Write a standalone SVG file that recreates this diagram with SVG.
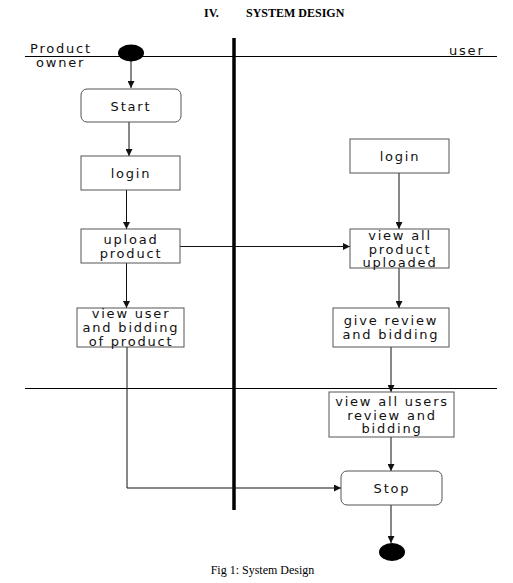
<svg xmlns="http://www.w3.org/2000/svg" width="513" height="583" viewBox="0 0 513 583">
<style>
.box{fill:#fff;stroke:#555;stroke-width:1}
.t{font-family:"DejaVu Sans",sans-serif;font-size:13px;letter-spacing:1.8px;fill:#111;text-anchor:middle}
.lane{font-family:"DejaVu Sans",sans-serif;font-size:13px;letter-spacing:1.8px;fill:#111}
.c{fill:none;stroke:#111;stroke-width:1}
.title{font-family:"Liberation Serif",serif;font-size:12px;font-weight:bold;fill:#000}
.cap{font-family:"Liberation Serif",serif;font-size:12px;fill:#000}
</style>
<defs>
<marker id="ah" viewBox="0 0 8 8" refX="8" refY="4" markerWidth="7" markerHeight="7" markerUnits="userSpaceOnUse" orient="auto">
<path d="M0,0 L8,4 L0,8 Z" fill="#111"/>
</marker>
</defs>
<rect width="513" height="583" fill="#fff"/>
<text class="title" x="204" y="17">IV.</text>
<text class="title" x="246" y="17">SYSTEM DESIGN</text>
<g id="swimlanes">
<line x1="25" y1="56.5" x2="497" y2="56.5" stroke="#000" stroke-width="1.2"/>
<line x1="25" y1="388.5" x2="497" y2="388.5" stroke="#000" stroke-width="1.2"/>
<line x1="234" y1="38" x2="234" y2="510" stroke="#000" stroke-width="3.5"/>
<text class="lane" x="30" y="53">Product</text>
<text class="lane" x="36" y="67">owner</text>
<text class="lane" x="449" y="55">user</text>
</g>
<g id="connectors">
<line class="c" x1="131" y1="61" x2="131" y2="88" marker-end="url(#ah)"/>
<line class="c" x1="129" y1="122" x2="129" y2="156" marker-end="url(#ah)"/>
<line class="c" x1="126.5" y1="190" x2="126.5" y2="229" marker-end="url(#ah)"/>
<line class="c" x1="126.5" y1="263" x2="126.5" y2="308" marker-end="url(#ah)"/>
<line class="c" x1="180" y1="246.5" x2="350" y2="246.5" marker-end="url(#ah)"/>
<line class="c" x1="399" y1="173" x2="399" y2="229" marker-end="url(#ah)"/>
<line class="c" x1="399" y1="268" x2="399" y2="308" marker-end="url(#ah)"/>
<line class="c" x1="391" y1="347" x2="391" y2="392" marker-end="url(#ah)"/>
<line class="c" x1="391" y1="437" x2="391" y2="471" marker-end="url(#ah)"/>
<polyline class="c" points="127,347 127,488 341,488" marker-end="url(#ah)"/>
<line class="c" x1="391" y1="505" x2="391" y2="543" marker-end="url(#ah)"/>
</g>
<g id="start-node"><ellipse cx="131" cy="53" rx="13" ry="8.5" fill="#000"/></g>
<g id="start"><rect class="box" x="81" y="89" width="100" height="33" rx="6"/><text class="t" x="131" y="111">Start</text></g>
<g id="login-owner"><rect class="box" x="81" y="156" width="99" height="34"/><text class="t" x="131" y="178">login</text></g>
<g id="upload-product"><rect class="box" x="81" y="229" width="99" height="34"/><text class="t" x="131" y="244">upload</text><text class="t" x="131" y="258">product</text></g>
<g id="view-user-bidding"><rect class="box" x="77" y="308" width="107" height="39"/><text class="t" x="131" y="318">view user</text><text class="t" x="131" y="332">and bidding</text><text class="t" x="131" y="345.5">of product</text></g>
<g id="login-user"><rect class="box" x="350" y="139" width="99" height="34"/><text class="t" x="400" y="161">login</text></g>
<g id="view-all-product"><rect class="box" x="350" y="229" width="99" height="39"/><text class="t" x="400" y="240">view all</text><text class="t" x="400" y="253.5">product</text><text class="t" x="400" y="267">uploaded</text></g>
<g id="give-review"><rect class="box" x="333" y="308" width="116" height="39"/><text class="t" x="391" y="325">give review</text><text class="t" x="391" y="339">and bidding</text></g>
<g id="view-all-users"><rect class="box" x="329" y="392" width="125" height="45"/><text class="t" x="392" y="406">view all users</text><text class="t" x="392" y="419.5">review and</text><text class="t" x="392" y="433">bidding</text></g>
<g id="stop"><rect class="box" x="341" y="471" width="101" height="34" rx="6"/><text class="t" x="392" y="493">Stop</text></g>
<g id="end-node"><ellipse cx="392" cy="552" rx="13" ry="9" fill="#000"/></g>
<text class="cap" x="262.5" y="574" text-anchor="middle">Fig 1: System Design</text>
</svg>
